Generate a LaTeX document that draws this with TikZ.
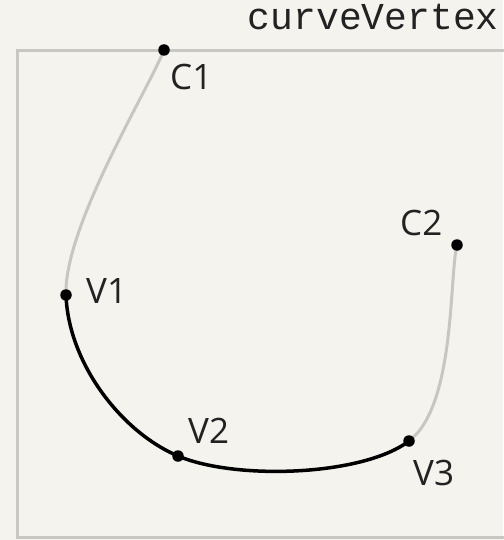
\documentclass[tikz,border=0pt]{standalone}
\usepackage{fontspec}
\setmainfont{Open Sans}
\newfontfamily\titlemono{Liberation Mono}
\definecolor{bgcol}{HTML}{F5F3EE}
\definecolor{framecol}{HTML}{C9C7C2}
\definecolor{ctrlcol}{HTML}{C8C6C2}
\definecolor{labcol}{HTML}{222222}
\begin{document}
\begin{tikzpicture}[x=1pt,y=-1pt,
  dot/.style={circle,fill=black,inner sep=0pt,minimum size=11.5pt},
  lab/.style={anchor=base west,inner sep=0pt,text=labcol,font=\fontsize{35}{35}\selectfont},
  ctrlcurve/.style={draw=ctrlcol,line width=3pt},
  maincurve/.style={draw=black,line width=3.5pt},
  frame/.style={draw=framecol,line width=3pt}]
\fill[bgcol] (0,0) rectangle (503,540);
\useasboundingbox (0,0) rectangle (503,540);
\draw[frame] (17,51) rectangle (530,537);
\node[anchor=base east,inner sep=0pt,text=labcol,font=\titlemono\fontsize{38}{38}\selectfont] (title) at (499,30) {curveVertex};
\coordinate (C1) at (164,50);
\coordinate (V1) at (66,295);
\coordinate (V2) at (178,456);
\coordinate (V3) at (409,441);
\coordinate (C2) at (457,245);
\draw[ctrlcurve] (C1) .. controls (147.7,90.8) and (63.7,227.3) .. (V1);
\draw[ctrlcurve] (V3) .. controls (455.5,405.8) and (449,277.7) .. (C2);
\draw[maincurve] (V1) .. controls (68.3,362.7) and (120.8,431.7) .. (V2)
  .. controls (235.2,480.3) and (362.5,476.2) .. (V3);
\node[dot] (dC1) at (C1) {};
\node[dot] (dV1) at (V1) {};
\node[dot] (dV2) at (V2) {};
\node[dot] (dV3) at (V3) {};
\node[dot] (dC2) at (C2) {};
\node[lab] (lC1) at (170,90) {C1};
\node[lab] (lC2) at (400,235) {C2};
\node[lab] (lV1) at (86,303) {V1};
\node[lab] (lV2) at (188,443) {V2};
\node[lab] (lV3) at (413,485) {V3};
\end{tikzpicture}
\end{document}
